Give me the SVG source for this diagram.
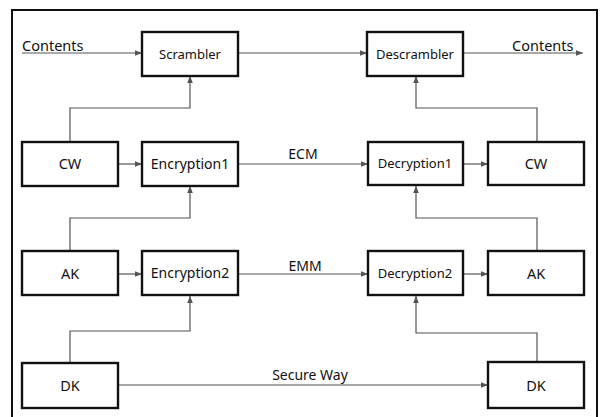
<svg xmlns="http://www.w3.org/2000/svg" width="602" height="417" viewBox="0 0 602 417">
<style>
.box{fill:#fff;stroke:#111;stroke-width:2.4}
.t{font-family:"Noto Sans","Open Sans",sans-serif;font-size:13px;fill:#111;text-anchor:middle}
.k{font-size:14.5px}
.e{font-size:14px}
.lt{font-family:"Noto Sans","Open Sans",sans-serif;font-size:14.5px;fill:#111}
.c{fill:none;stroke:#555;stroke-width:1.2}
</style>
<defs>
<marker id="ah" viewBox="0 0 10 10" refX="10" refY="5" markerWidth="7" markerHeight="7" orient="auto" markerUnits="userSpaceOnUse">
<path d="M0,1 L10,5 L0,9 z" fill="#555"/>
</marker>
</defs>
<rect x="0" y="0" width="602" height="417" fill="#fff"/>
<rect x="12" y="10" width="585" height="410" fill="none" stroke="#111" stroke-width="2"/>
<g id="connectors">
<path class="c" d="M22,53 H142" marker-end="url(#ah)"/>
<path class="c" d="M238,53 H367" marker-end="url(#ah)"/>
<path class="c" d="M463,53 H583" marker-end="url(#ah)"/>
<path class="c" d="M70,142 V108 H190 V76" marker-end="url(#ah)"/>
<path class="c" d="M537,142 V108 H416 V76" marker-end="url(#ah)"/>
<path class="c" d="M118,164 H142" marker-end="url(#ah)"/>
<path class="c" d="M238,164 H368" marker-end="url(#ah)"/>
<path class="c" d="M463,164 H488" marker-end="url(#ah)"/>
<path class="c" d="M70,251 V218 H190 V186" marker-end="url(#ah)"/>
<path class="c" d="M537,251 V218 H416 V186" marker-end="url(#ah)"/>
<path class="c" d="M118,274 H142" marker-end="url(#ah)"/>
<path class="c" d="M238,274 H368" marker-end="url(#ah)"/>
<path class="c" d="M463,274 H488" marker-end="url(#ah)"/>
<path class="c" d="M70,363 V331 H190 V296" marker-end="url(#ah)"/>
<path class="c" d="M537,362 V333 H416 V296" marker-end="url(#ah)"/>
<path class="c" d="M118,385 H488" marker-end="url(#ah)"/>
<text class="lt" x="22" y="51">Contents</text>
<text class="lt" x="512" y="51">Contents</text>
<text class="t" x="303" y="159" style="font-size:14px">ECM</text>
<text class="t" x="305" y="271" style="font-size:14px">EMM</text>
<text class="t" x="310" y="380" style="font-size:14px">Secure Way</text>
</g>
<g id="scrambler"><rect class="box" x="142" y="32" width="96" height="44"/><text class="t" x="190" y="59">Scrambler</text></g>
<g id="descrambler"><rect class="box" x="367" y="32" width="96" height="44"/><text class="t" x="415" y="59">Descrambler</text></g>
<g id="cw-left"><rect class="box" x="22" y="142" width="96" height="44"/><text class="t k" x="70" y="169">CW</text></g>
<g id="encryption1"><rect class="box" x="142" y="142" width="96" height="44"/><text class="t e" x="190" y="169">Encryption1</text></g>
<g id="decryption1"><rect class="box" x="368" y="142" width="95" height="43"/><text class="t" x="415" y="168">Decryption1</text></g>
<g id="cw-right"><rect class="box" x="488" y="142" width="96" height="43"/><text class="t k" x="536" y="169">CW</text></g>
<g id="ak-left"><rect class="box" x="22" y="251" width="96" height="44"/><text class="t k" x="70" y="279">AK</text></g>
<g id="encryption2"><rect class="box" x="142" y="251" width="96" height="44"/><text class="t e" x="190" y="278">Encryption2</text></g>
<g id="decryption2"><rect class="box" x="368" y="251" width="95" height="44"/><text class="t" x="415" y="278">Decryption2</text></g>
<g id="ak-right"><rect class="box" x="488" y="251" width="96" height="44"/><text class="t k" x="536" y="279">AK</text></g>
<g id="dk-left"><rect class="box" x="22" y="363" width="96" height="45"/><text class="t k" x="70" y="391">DK</text></g>
<g id="dk-right"><rect class="box" x="488" y="362" width="96" height="46"/><text class="t k" x="536" y="391">DK</text></g>
</svg>
